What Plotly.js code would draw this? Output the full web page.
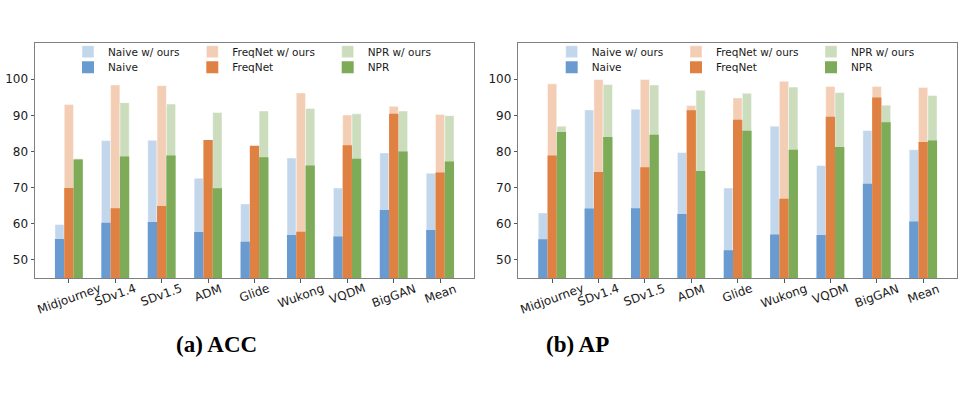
<!DOCTYPE html>
<html>
<head>
<meta charset="utf-8">
<script src="https://cdn.plot.ly/plotly-3.0.1.min.js"></script>
<style>html,body{margin:0;padding:0;background:#fff;}#chart{width:974px;height:399px;}</style>
</head>
<body>
<div id="chart"></div>
<script>
const categories = ["Midjourney","SDv1.4","SDv1.5","ADM","Glide","Wukong","VQDM","BigGAN","Mean"];

// (a) ACC
const accNaive        = [55.8, 60.3, 60.5, 57.7, 55.0, 56.9, 56.5, 63.8, 58.3];
const accNaiveOurs    = [59.8, 83.0, 83.1, 72.6, 65.5, 78.2, 69.9, 79.6, 74.0];
const accFreqNet      = [69.9, 64.3, 64.9, 83.2, 81.6, 57.8, 81.7, 90.4, 74.2];
const accFreqNetOurs  = [93.0, 98.4, 98.2, 83.0, 81.0, 96.2, 90.1, 92.5, 90.2];
const accNPR          = [77.8, 78.6, 78.9, 69.8, 78.4, 76.1, 78.0, 80.0, 77.2];
const accNPROurs      = [78.0, 93.5, 93.1, 90.8, 91.2, 91.9, 90.4, 91.2, 89.9];

// (b) AP
const apNaive         = [55.7, 64.2, 64.3, 62.7, 52.7, 57.0, 56.9, 71.1, 60.6];
const apNaiveOurs     = [63.0, 91.5, 91.7, 79.7, 69.9, 87.0, 76.1, 85.8, 80.5];
const apFreqNet       = [78.9, 74.3, 75.6, 91.4, 88.8, 66.9, 89.6, 94.9, 82.6];
const apFreqNetOurs   = [98.7, 99.9, 99.9, 92.7, 94.8, 99.4, 98.0, 98.0, 97.7];
const apNPR           = [85.4, 84.0, 84.6, 74.6, 85.7, 80.5, 81.2, 88.1, 83.0];
const apNPROurs       = [87.0, 98.5, 98.4, 96.9, 96.1, 97.8, 96.3, 92.8, 95.5];

const seriesNames = ["Naive", "FreqNet", "NPR"];
const yTicks = [50, 60, 70, 80, 90, 100];
const captions = ["<b>(a) ACC</b>", "<b>(b) AP</b>"];

const dark  = ["rgb(106,155,208)", "rgb(224,129,68)", "rgb(125,171,87)"];
const light = ["rgb(195,215,236)", "rgb(243,205,180)", "rgb(203,221,188)"];
const offsets = [-0.3, -0.1, 0.1];
const BW = 0.2;

const W = 974, H = 399;
const font = "DejaVu Sans, sans-serif";

const panels = [
  {base: [accNaive, accFreqNet, accNPR], ours: [accNaiveOurs, accFreqNetOurs, accNPROurs], xa: "x", ya: "y"},
  {base: [apNaive, apFreqNet, apNPR], ours: [apNaiveOurs, apFreqNetOurs, apNPROurs], xa: "x2", ya: "y2"}
];

// legend placement (text start x per column, row centre y)
const legendTextX = [[108, 232.3, 367.7], [591.7, 716, 851]];
const legendRowY = [51.7, 67.3];
const legends = {};
let lgCount = 0;
function newLegend(textX, rowY) {
  lgCount++;
  const name = lgCount === 1 ? "legend" : "legend" + lgCount;
  legends[name] = {x: (textX - 40) / W, xanchor: "left", y: (H - rowY) / H, yanchor: "middle",
    orientation: "v", bgcolor: "rgba(0,0,0,0)", borderwidth: 0,
    font: {family: font, size: 10.5, color: "#1a1a1a"},
    itemclick: false, itemdoubleclick: false};
  return name;
}

const traces = [];
panels.forEach((p, j) => {
  for (let i = 0; i < 3; i++) {
    traces.push({
      type: "bar", x: categories, y: p.ours[i], name: seriesNames[i] + " w/ ours",
      xaxis: p.xa, yaxis: p.ya, legend: newLegend(legendTextX[j][i], legendRowY[0]),
      offset: offsets[i], width: BW,
      marker: {color: light[i], line: {color: "rgba(255,255,255,0.6)", width: 0.8}},
      hoverinfo: "skip"
    });
  }
  for (let i = 0; i < 3; i++) {
    traces.push({
      type: "bar", x: categories, y: p.base[i], name: seriesNames[i],
      xaxis: p.xa, yaxis: p.ya, legend: newLegend(legendTextX[j][i], legendRowY[1]),
      offset: offsets[i], width: BW,
      marker: {color: dark[i], line: {width: 0}},
      hoverinfo: "skip"
    });
  }
});

function xAxis(d0, d1, anchor) {
  return {domain: [d0 / W, d1 / W], anchor: anchor, type: "category", range: [-0.73, 8.73],
    showline: true, mirror: true, linecolor: "#808080", linewidth: 1,
    ticks: "outside", ticklen: 3.5, tickcolor: "#555", tickwidth: 1,
    showticklabels: false, showgrid: false, zeroline: false, fixedrange: true};
}
function yAxis(anchor) {
  return {domain: [(H - 278) / H, (H - 43) / H], anchor: anchor, range: [45, 110],
    tickvals: yTicks, ticktext: yTicks.map(String),
    showline: true, mirror: true, linecolor: "#808080", linewidth: 1,
    ticks: "outside", ticklen: 3.5, tickcolor: "#555", tickwidth: 1,
    tickfont: {family: font, size: 12, color: "#1a1a1a"},
    showgrid: false, zeroline: false, fixedrange: true};
}

const annotations = [];
["x", "x2"].forEach(xr => {
  categories.forEach(c => {
    annotations.push({x: c, xref: xr, y: (H - 279) / H, yref: "paper", text: c,
      textangle: -20, xanchor: "center", yanchor: "top", showarrow: false,
      font: {family: font, size: 12, color: "#1a1a1a"}});
  });
});
[[216, captions[0]], [577.5, captions[1]]].forEach(([cx, t]) => {
  annotations.push({x: cx / W, xref: "paper", y: (H - 344) / H, yref: "paper", text: t,
    xanchor: "center", yanchor: "middle", showarrow: false,
    font: {family: "Liberation Serif, serif", size: 23, color: "#000"}});
});

const layout = Object.assign({
  width: W, height: H, margin: {l: 0, r: 0, t: 0, b: 0},
  paper_bgcolor: "#fff", plot_bgcolor: "#fff",
  barmode: "overlay", showlegend: true,
  xaxis: xAxis(35, 474, "y"), yaxis: yAxis("x"),
  xaxis2: xAxis(518.3, 957, "y2"), yaxis2: yAxis("x2"),
  annotations: annotations
}, legends);

Plotly.newPlot("chart", traces, layout, {staticPlot: true, displayModeBar: false});
</script>
</body>
</html>
